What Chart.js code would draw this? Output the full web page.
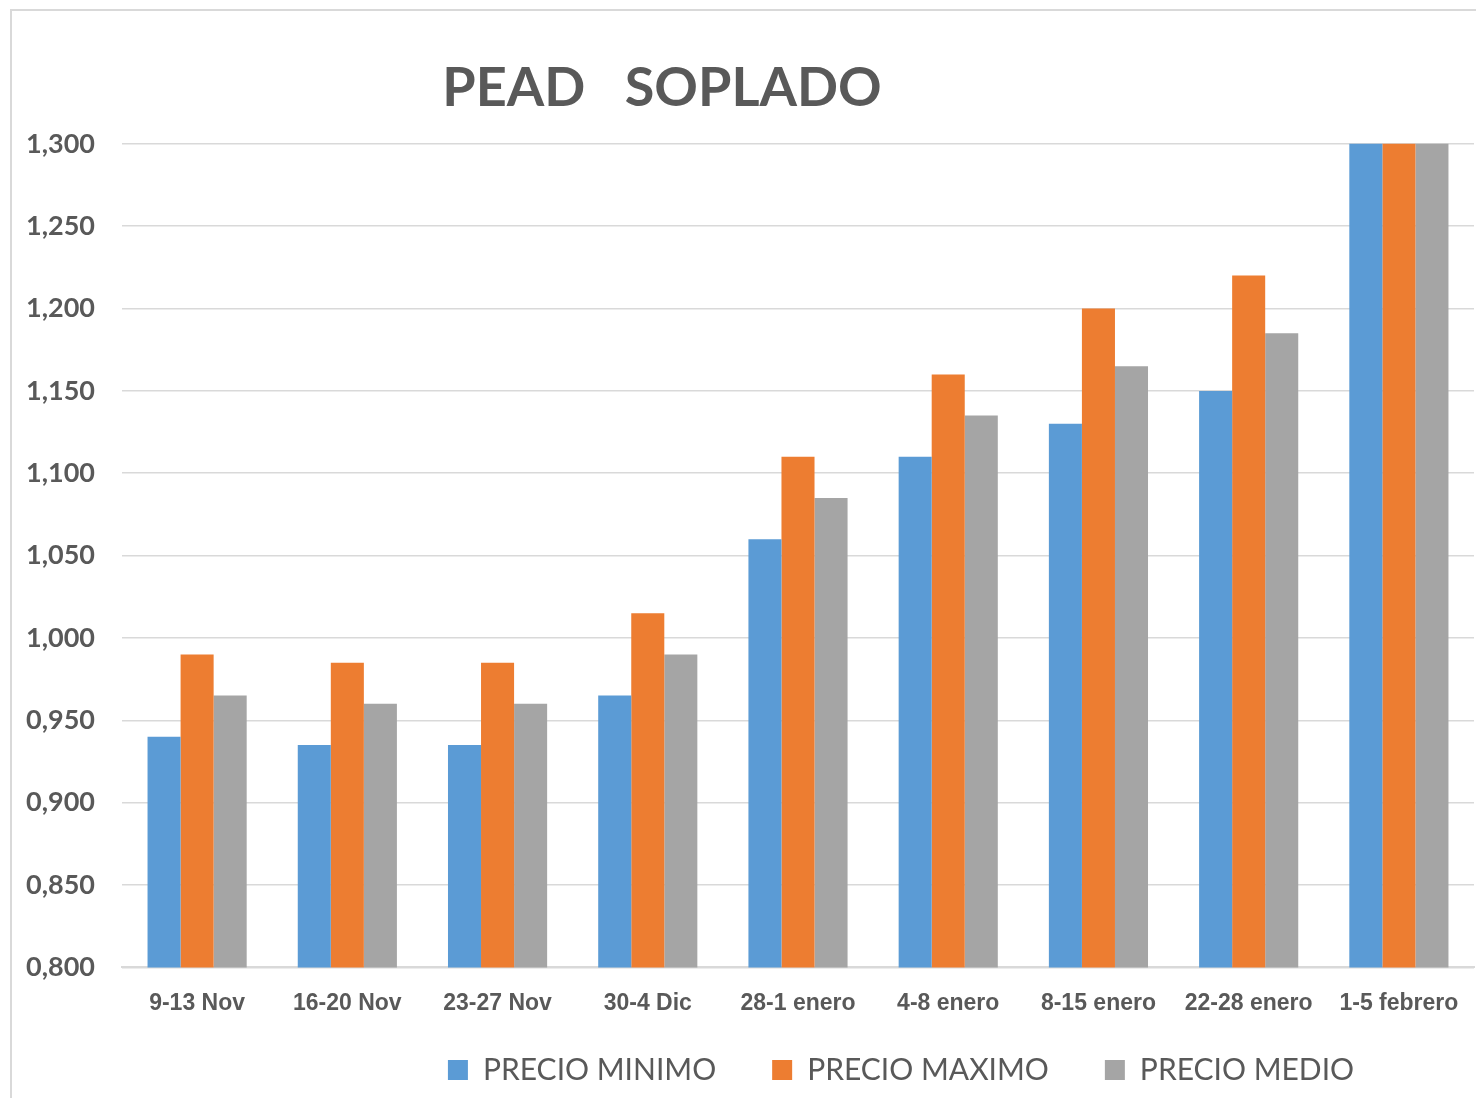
<!DOCTYPE html>
<html>
<head>
<meta charset="utf-8">
<script src="https://cdn.jsdelivr.net/npm/chart.js@4"></script>
<style>
  html, body { margin:0; padding:0; background:#fff; overflow:hidden; }
  #marco { position:absolute; left:10px; top:9px; width:1600px; height:1200px; border:2px solid #d9d9d9; }
  #grafico { position:absolute; left:0; top:0; }
</style>
</head>
<body>
<div id="marco"></div>
<canvas id="grafico" width="1476" height="1098"></canvas>
<script>
const semanas = ["9-13 Nov","16-20 Nov","23-27 Nov","30-4 Dic","28-1 enero","4-8 enero","8-15 enero","22-28 enero","1-5 febrero"];
const precioMinimo = [0.940, 0.935, 0.935, 0.965, 1.060, 1.110, 1.130, 1.150, 1.330];
const precioMaximo = [0.990, 0.985, 0.985, 1.015, 1.110, 1.160, 1.200, 1.220, 1.380];
const precioMedio  = [0.965, 0.960, 0.960, 0.990, 1.085, 1.135, 1.165, 1.185, 1.355];
const nombresSeries = ["PRECIO MINIMO","PRECIO MAXIMO","PRECIO MEDIO"];
const coloresSeries = ["#5b9bd5","#ed7d31","#a5a5a5"];

const gris = "#595959";

// mueve titulo y leyenda como en el original de excel
const desplazar = {
    id: "desplazar",
    afterLayout(chart){
        const t = chart.titleBlock;
        const dt = 662 - (t.left + t.right)/2;
        t.left += dt; t.right += dt;
        const l = chart.legend;
        const dl = 901 - (l.left + l.right)/2;
        l.left += dl; l.right += dl;
        const dy = 999 - l.top;
        l.top += dy; l.bottom += dy;
    }
};

new Chart(document.getElementById("grafico"), {
    type: "bar",
    data: {
        labels: semanas,
        datasets: [
            {label:nombresSeries[0], data:precioMinimo, backgroundColor:coloresSeries[0]},
            {label:nombresSeries[1], data:precioMaximo, backgroundColor:coloresSeries[1]},
            {label:nombresSeries[2], data:precioMedio,  backgroundColor:coloresSeries[2]}
        ]
    },
    options: {
        responsive:false,
        animation:false,
        layout:{ padding:{ left:10, right:2, top:20, bottom:-29 } },
        datasets:{ bar:{ categoryPercentage:0.66, barPercentage:1 } },
        plugins:{
            title:{
                display:true,
                text:"PEAD   SOPLADO",
                color:gris,
                font:{ family:"Lato", size:54, weight:"bold" },
                padding:{ top:36, bottom:23 }
            },
            legend:{
                position:"bottom",
                labels:{
                    color:gris,
                    font:{ family:"Lato", size:30 },
                    boxWidth:20, boxHeight:20,
                    padding:56
                }
            },
            tooltip:{ enabled:false }
        },
        scales:{
            x:{
                grid:{ display:false },
                border:{ color:"#d9d9d9", width:2 },
                ticks:{ color:gris, padding:14, font:{ family:"'Liberation Sans Narrow', 'Arial Narrow', 'Liberation Sans', sans-serif", size:23, weight:"bold" } }
            },
            y:{
                min:0.8, max:1.3,
                afterFit(ax){ ax.width = 112; },
                grid:{ color:"#d9d9d9", lineWidth:1.5, drawTicks:false },
                border:{ display:false },
                ticks:{
                    stepSize:0.05,
                    padding:27,
                    color:gris,
                    font:{ family:"Lato", size:27, weight:"bold" },
                    callback:v => v.toFixed(3).replace(".", ",")
                }
            }
        }
    },
    plugins:[desplazar]
});
</script>
</body>
</html>
